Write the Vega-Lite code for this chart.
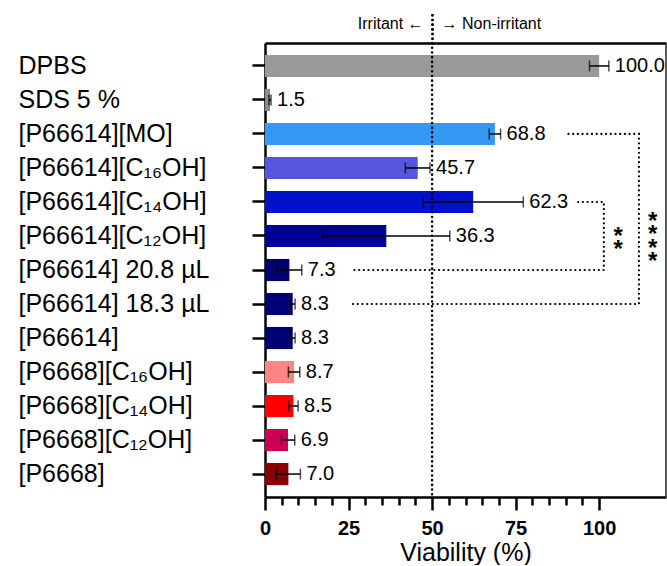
{
  "$schema": "https://vega.github.io/schema/vega-lite/v6.json",
  "padding": {"left": 18, "top": 12, "right": 0, "bottom": 0},
  "width": 401,
  "height": 454,
  "config": {"view": {"stroke": null}, "font": "Liberation Sans", "axis": {"grid": false}},
  "datasets": {
    "bars": [
      {"sample": "DPBS", "value": 100.0, "lo": 97.1, "hi": 102.9},
      {"sample": "SDS 5 %", "value": 1.5, "lo": 1.2, "hi": 1.8},
      {"sample": "[P66614][MO]", "value": 68.8, "lo": 67.1, "hi": 70.5},
      {"sample": "[P66614][C₁₆OH]", "value": 45.7, "lo": 42.0, "hi": 49.4},
      {"sample": "[P66614][C₁₄OH]", "value": 62.3, "lo": 47.3, "hi": 77.3},
      {"sample": "[P66614][C₁₂OH]", "value": 36.3, "lo": 17.3, "hi": 55.3},
      {"sample": "[P66614] 20.8 µL", "value": 7.3, "lo": 3.6, "hi": 11.0},
      {"sample": "[P66614] 18.3 µL", "value": 8.3, "lo": 7.6, "hi": 9.0},
      {"sample": "[P66614]", "value": 8.3, "lo": 7.6, "hi": 9.0},
      {"sample": "[P6668][C₁₆OH]", "value": 8.7, "lo": 7.0, "hi": 10.4},
      {"sample": "[P6668][C₁₄OH]", "value": 8.5, "lo": 7.1, "hi": 9.9},
      {"sample": "[P6668][C₁₂OH]", "value": 6.9, "lo": 4.9, "hi": 8.9},
      {"sample": "[P6668]", "value": 7.0, "lo": 3.4, "hi": 10.6}
    ],
    "brackets": [
      {"bracket": "a", "step": 1, "x": 90.8, "sample": "[P66614][MO]"},
      {"bracket": "a", "step": 2, "x": 111.9, "sample": "[P66614][MO]"},
      {"bracket": "a", "step": 3, "x": 111.9, "sample": "[P66614] 18.3 µL"},
      {"bracket": "a", "step": 4, "x": 25.4, "sample": "[P66614] 18.3 µL"},
      {"bracket": "b", "step": 1, "x": 93.7, "sample": "[P66614][C₁₄OH]"},
      {"bracket": "b", "step": 2, "x": 101.4, "sample": "[P66614][C₁₄OH]"},
      {"bracket": "b", "step": 3, "x": 101.4, "sample": "[P66614] 20.8 µL"},
      {"bracket": "b", "step": 4, "x": 25.4, "sample": "[P66614] 20.8 µL"}
    ]
  },
  "resolve": {"axis": {"x": "independent", "y": "independent"}},
  "layer": [
    {
      "data": {"name": "bars"},
      "mark": {"type": "bar"},
      "encoding": {
        "x": {"field": "value", "type": "quantitative", "scale": {"domain": [0, 120], "nice": false},
              "axis": {"orient": "bottom", "values": [0, 25, 50, 75, 100], "title": "Viability (%)", "titleFontSize": 25, "titleFontWeight": "normal", "titleColor": "black", "titlePadding": 2, "labelFontSize": 20, "labelFontWeight": "bold", "labelColor": "black", "labelPadding": 8, "labelFlush": false, "tickSize": 13, "tickWidth": 2.5, "tickColor": "black", "domainColor": "black", "domainWidth": 2.5, "grid": false}},
        "y": {"field": "sample", "type": "nominal", "title": null,
              "scale": {"domain": ["DPBS", "SDS 5 %", "[P66614][MO]", "[P66614][C₁₆OH]", "[P66614][C₁₄OH]", "[P66614][C₁₂OH]", "[P66614] 20.8 µL", "[P66614] 18.3 µL", "[P66614]", "[P6668][C₁₆OH]", "[P6668][C₁₄OH]", "[P6668][C₁₂OH]", "[P6668]"], "paddingInner": 0.35, "paddingOuter": 0.35},
              "axis": {"orient": "left", "title": null, "labelAlign": "left", "labelBaseline": "middle", "labelPadding": 234, "labelLimit": 400, "labelFontSize": 25, "labelColor": "black", "tickSize": 13, "tickWidth": 2.5, "tickColor": "black", "domainColor": "black", "domainWidth": 2.5, "grid": false}},
        "color": {"field": "sample", "type": "nominal", "legend": null,
                  "scale": {"domain": ["DPBS", "SDS 5 %", "[P66614][MO]", "[P66614][C₁₆OH]", "[P66614][C₁₄OH]", "[P66614][C₁₂OH]", "[P66614] 20.8 µL", "[P66614] 18.3 µL", "[P66614]", "[P6668][C₁₆OH]", "[P6668][C₁₄OH]", "[P6668][C₁₂OH]", "[P6668]"],
                            "range": ["#999999", "#8c8c8c", "#3399f2", "#5555dd", "#0011cc", "#000096", "#000070", "#000075", "#000075", "#ff8585", "#ff0000", "#cc0055", "#880000"]}}
      }
    },
    {
      "data": {"name": "bars"},
      "mark": {"type": "rule", "color": "black", "strokeWidth": 1.5},
      "encoding": {"x": {"field": "lo", "type": "quantitative", "axis": null}, "x2": {"field": "hi"}, "y": {"field": "sample", "type": "nominal", "axis": null}}
    },
    {
      "data": {"name": "bars"},
      "mark": {"type": "tick", "orient": "vertical", "color": "black", "size": 11, "thickness": 1.5},
      "encoding": {"x": {"field": "lo", "type": "quantitative", "axis": null}, "y": {"field": "sample", "type": "nominal", "axis": null}}
    },
    {
      "data": {"name": "bars"},
      "mark": {"type": "tick", "orient": "vertical", "color": "black", "size": 11, "thickness": 1.5},
      "encoding": {"x": {"field": "hi", "type": "quantitative", "axis": null}, "y": {"field": "sample", "type": "nominal", "axis": null}}
    },
    {
      "data": {"name": "bars"},
      "mark": {"type": "text", "align": "left", "baseline": "middle", "dx": 6, "fontSize": 20, "color": "black"},
      "encoding": {"x": {"field": "hi", "type": "quantitative", "axis": null}, "y": {"field": "sample", "type": "nominal", "axis": null},
                   "text": {"field": "value", "type": "quantitative", "format": ".1f"}}
    },
    {
      "data": {"name": "brackets"},
      "mark": {"type": "line", "color": "black", "strokeWidth": 2.2, "strokeDash": [0.1, 4.6], "strokeCap": "round", "interpolate": "linear"},
      "encoding": {"x": {"field": "x", "type": "quantitative", "axis": null}, "y": {"field": "sample", "type": "nominal", "axis": null},
                   "detail": {"field": "bracket"}, "order": {"field": "step", "type": "quantitative"}}
    },
    {
      "data": {"values": [{"label": "*\n*", "x": 105.7, "sample": "[P66614][C₁₂OH]"}]},
      "mark": {"type": "text", "lineBreak": "\n", "lineHeight": 13, "fontSize": 24, "fontWeight": "bold", "align": "center", "baseline": "middle", "dy": 1, "color": "black"},
      "encoding": {"x": {"field": "x", "type": "quantitative", "axis": null}, "y": {"field": "sample", "type": "nominal", "axis": null}, "text": {"field": "label"}}
    },
    {
      "data": {"values": [{"label": "*\n*\n*\n*", "x": 116.0, "sample": "[P66614][C₁₄OH]"}]},
      "mark": {"type": "text", "lineBreak": "\n", "lineHeight": 13.5, "fontSize": 24, "fontWeight": "bold", "align": "center", "baseline": "middle", "dy": 20, "color": "black"},
      "encoding": {"x": {"field": "x", "type": "quantitative", "axis": null}, "y": {"field": "sample", "type": "nominal", "axis": null}, "text": {"field": "label"}}
    },
    {
      "data": {"values": [{}]},
      "mark": {"type": "rule", "color": "black", "strokeWidth": 2.5, "strokeDash": [0.1, 4.6], "strokeCap": "round"},
      "encoding": {"x": {"datum": 50, "type": "quantitative",
                         "axis": {"orient": "bottom", "values": [5, 10, 15, 20, 30, 35, 40, 45, 55, 60, 65, 70, 80, 85, 90, 95], "labels": false, "domain": false, "title": null, "tickSize": 8, "tickWidth": 2.5, "tickColor": "black", "grid": false}}}
    },
    {
      "data": {"values": [{}]},
      "mark": {"type": "rule", "color": "#222222", "strokeWidth": 1},
      "encoding": {"x": {"datum": 120, "type": "quantitative",
                         "axis": {"orient": "top", "values": [50], "title": null, "domain": true, "domainColor": "black", "domainWidth": 2.5, "tickSize": 29, "tickWidth": 2.5, "tickColor": "black", "tickDash": [0.1, 4.6], "tickCap": "round", "labelExpr": "'Irritant ←'", "labelAlign": "right", "labelOffset": -9, "labelPadding": -17, "labelFontSize": 16, "labelColor": "black", "grid": false}}}
    },
    {
      "data": {"values": [{}]},
      "mark": {"type": "rule", "color": "#222222", "strokeWidth": 1},
      "encoding": {"x": {"datum": 120, "type": "quantitative",
                         "axis": {"orient": "top", "values": [50], "title": null, "domain": false, "tickSize": 29, "tickWidth": 2.5, "tickColor": "black", "tickDash": [0.1, 4.6], "tickCap": "round", "labelExpr": "'→ Non-irritant'", "labelAlign": "left", "labelOffset": 9, "labelPadding": -17, "labelFontSize": 16, "labelColor": "black", "grid": false}}}
    }
  ]
}
